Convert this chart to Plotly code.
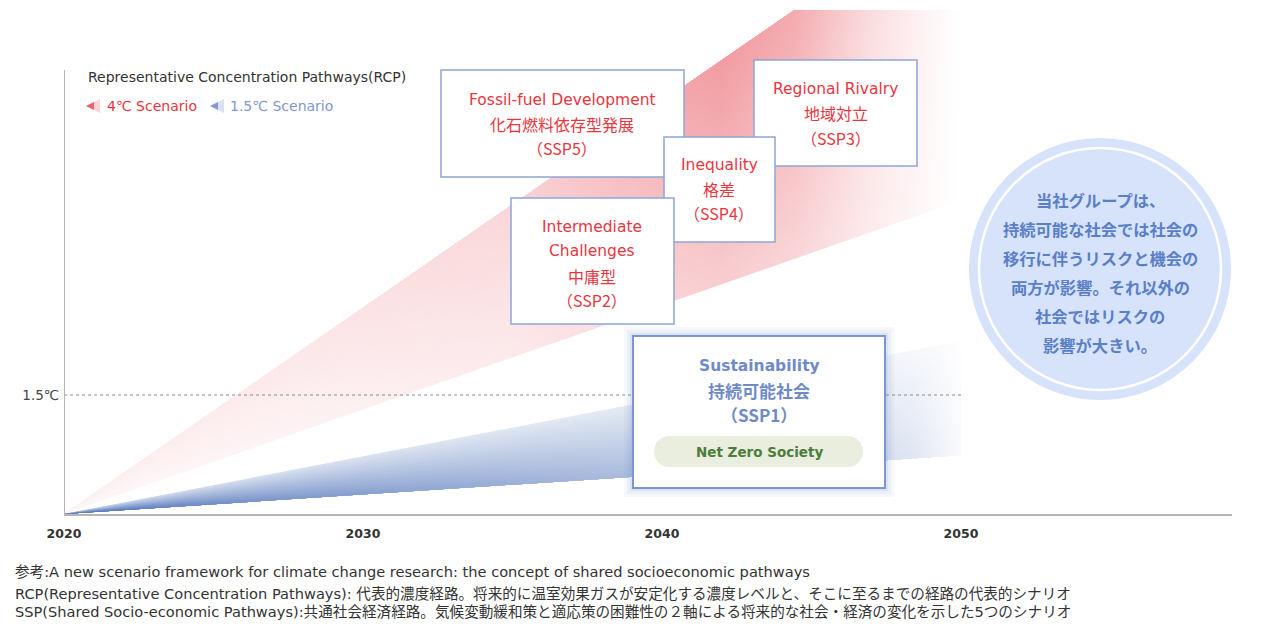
import plotly.graph_objects as go

W, H = 1263, 628

# ---------------- data ----------------
years = [2020, 2050]
rcp_4c_upper = [0.0, 7.8]     # 4℃ scenario fan, upper edge
rcp_4c_lower = [0.0, 3.95]    # 4℃ scenario fan, lower edge
rcp_15c_upper = [0.0, 2.18]   # 1.5℃ scenario fan, upper edge
rcp_15c_lower = [0.0, 0.74]   # 1.5℃ scenario fan, lower edge
threshold_value = 1.5
threshold_label = "1.5℃"
tick_years = [2020, 2030, 2040, 2050]

ssp_boxes = [
    ("SSP5", ["Fossil-fuel Development", "化石燃料依存型発展", "（SSP5）"]),
    ("SSP3", ["Regional Rivalry", "地域対立", "（SSP3）"]),
    ("SSP4", ["Inequality", "格差", "（SSP4）"]),
    ("SSP2", ["Intermediate", "Challenges", "中庸型", "（SSP2）"]),
]
ssp1_lines = ["Sustainability", "持続可能社会", "（SSP1）"]
ssp1_tag = "Net Zero Society"
circle_lines = ["当社グループは、", "持続可能な社会では社会の", "移行に伴うリスクと機会の",
                "両方が影響。それ以外の", "社会ではリスクの", "影響が大きい。"]
legend_title = "Representative Concentration Pathways(RCP)"
legend_items = ["4℃ Scenario", "1.5℃ Scenario"]
notes = [
    "参考:A new scenario framework for climate change research: the concept of shared socioeconomic pathways",
    "RCP(Representative Concentration Pathways): 代表的濃度経路。将来的に温室効果ガスが安定化する濃度レベルと、そこに至るまでの経路の代表的シナリオ",
    "SSP(Shared Socio-economic Pathways):共通社会経済経路。気候変動緩和策と適応策の困難性の２軸による将来的な社会・経済の変化を示した5つのシナリオ",
]

# ---------------- style ----------------
RED = "#e8363f"
BLUE_T = "#8097cc"
BOX_LINE = "#8fa5d6"
LAT = "DejaVu Sans, Noto Sans CJK JP"
CJK = "Noto Sans CJK JP"

PX_PER_YEAR = 29.9
PX_PER_UNIT = 119 / 1.5
X_MAX = years[0] + 1168 / PX_PER_YEAR


def px(x):
    return x / W


def py(y):
    return 1 - y / H


def mix(base, I):
    I = max(0.0, min(1.0, I))
    r, g, b = base
    return "rgb(%d,%d,%d)" % (round(r * I + 255 * (1 - I)), round(g * I + 255 * (1 - I)), round(b * I + 255 * (1 - I)))


def fan_traces(lower, upper, base, hprof, vfun, dark_top, n=28):
    out = []
    x0, x1 = years[0], X_MAX
    for k in range(n, 0, -1):
        if dark_top:
            fa, fb = 1 - k / n, 1.0
            frep = 1 - (k - 0.5) / n
        else:
            fa, fb = 0.0, k / n
            frep = (k - 0.5) / n
        ya = [lo + fa * (hi - lo) for lo, hi in zip(lower, upper)]
        yb = [lo + fb * (hi - lo) for lo, hi in zip(lower, upper)]
        cs = [[(xx - x0) / (x1 - x0), mix(base, v * vfun(frep))] for xx, v in hprof]
        cs.append([1.0, "rgb(255,255,255)"])
        out.append(go.Scatter(
            x=years + years[::-1], y=ya + yb[::-1], mode="lines", fill="toself",
            line=dict(width=0), hoverinfo="skip", showlegend=False,
            fillgradient=dict(type="horizontal", colorscale=cs, start=x0, stop=x1),
        ))
    return out


fig = go.Figure()

red_h = [(2020, 0.12), (2028, 0.2), (2035, 0.35), (2039, 0.65), (2042, 0.85),
         (2044.5, 0.72), (2047, 0.33), (2049, 0.1), (2050, 0.0)]
blue_h = [(2020, 1.0), (2026, 0.75), (2033, 0.6), (2040, 0.45), (2046, 0.3),
          (2048.5, 0.17), (2050, 0.03)]

for t in fan_traces(rcp_4c_lower, rcp_4c_upper, (239, 138, 145), red_h,
                    lambda f: 0.5 + 0.5 * f, dark_top=True):
    fig.add_trace(t)
for t in fan_traces(rcp_15c_lower, rcp_15c_upper, (74, 111, 183), blue_h,
                    lambda f: 1.0 - 0.7 * f, dark_top=False):
    fig.add_trace(t)

# 1.5℃ threshold
fig.add_trace(go.Scatter(x=years, y=[threshold_value] * len(years), mode="lines",
                         line=dict(color="#8a8a8a", width=1, dash="dot"),
                         hoverinfo="skip", showlegend=False))

shapes = []
# left axis line
shapes.append(dict(type="line", xref="x", yref="y", x0=years[0], x1=years[0], y0=0,
                   y1=(514 - 70) / PX_PER_UNIT, line=dict(color="#b5b5b5", width=2)))


def rect(x0, y0, x1, y1, fill="white", line=BOX_LINE, lw=1.5):
    d = dict(type="rect", xref="paper", yref="paper", x0=px(x0), x1=px(x1), y0=py(y1), y1=py(y0),
             fillcolor=fill, layer="above")
    d["line"] = dict(color=line, width=lw) if lw else dict(width=0)
    return d


def circ(x0, y0, x1, y1, fill=None, line=None, lw=0):
    d = dict(type="circle", xref="paper", yref="paper", x0=px(x0), x1=px(x1), y0=py(y1), y1=py(y0),
             layer="above")
    if fill:
        d["fillcolor"] = fill
    d["line"] = dict(color=line, width=lw) if lw else dict(width=0)
    return d


box_geom = {"SSP5": (441, 70, 684, 177), "SSP3": (754, 60, 917, 166),
            "SSP4": (664, 137, 775, 242), "SSP2": (511, 198, 674, 324)}
for key, _ in ssp_boxes:
    shapes.append(rect(*box_geom[key]))

# SSP1 box with glow
for pad, a in [(9, 0.06), (6, 0.08), (3, 0.12)]:
    shapes.append(rect(633 - pad, 336 - pad, 885 + pad, 488 + pad, fill="rgba(110,140,205,%.2f)" % a, lw=0))
shapes.append(rect(633, 336, 885, 488, line="#7d96cf", lw=2))
# pill
shapes.append(circ(654, 436, 685, 467, fill="#e9eedf"))
shapes.append(circ(832, 436, 863, 467, fill="#e9eedf"))
shapes.append(rect(669.5, 436, 847.5, 467, fill="#e9eedf", lw=0))

# message circle
shapes.append(circ(969, 138, 1231, 400, fill="#d6e3fb"))
shapes.append(circ(979, 148, 1221, 390, line="white", lw=2.5))


# legend icons (left-pointing triangles)
def tri(xt, yc, w, h, col):
    return dict(type="path", xref="paper", yref="paper",
                path="M %f %f L %f %f L %f %f Z" % (px(xt), py(yc), px(xt + w), py(yc - h), px(xt + w), py(yc + h)),
                fillcolor=col, line=dict(width=0), layer="above")


shapes.append(tri(86, 106, 14, 7, "rgba(240,110,120,0.30)"))
shapes.append(tri(86, 106, 8, 4, "rgba(232,60,70,0.75)"))
shapes.append(tri(210, 106, 14, 7, "rgba(128,151,204,0.30)"))
shapes.append(tri(210, 106, 8, 4, "rgba(110,135,195,0.8)"))

ann = []


def text(x, y, s, size, color, family, bold=False, xanchor="center"):
    ann.append(dict(x=px(x), y=py(y), xref="paper", yref="paper", text=s, showarrow=False,
                    xanchor=xanchor, yanchor="middle",
                    font=dict(size=size, color=color, family=family, weight="bold" if bold else "normal")))


def is_latin(s):
    return all(ord(c) < 0x2000 for c in s)


# legend
text(86, 77, legend_title, 14, "#333333", LAT, xanchor="left")
text(105, 106, legend_items[0], 14, RED, LAT, xanchor="left")
text(228, 106, legend_items[1], 14, BLUE_T, LAT, xanchor="left")

# SSP boxes text
box_text_pos = {"SSP5": (562, [100, 124, 148]), "SSP3": (836, [89, 113, 138]),
                "SSP4": (719, [165, 189, 213]), "SSP2": (592, [227, 251, 276, 300])}
for key, lines in ssp_boxes:
    cx, ys = box_text_pos[key]
    for s, yy in zip(lines, ys):
        if is_latin(s):
            text(cx, yy, s, 15.5, RED, LAT)
        else:
            text(cx, yy, s, 16, RED, CJK)

for s, yy in zip(ssp1_lines, [366, 390, 414]):
    if is_latin(s):
        text(759, yy, s, 15.5, "#6f8ac6", LAT, bold=True)
    else:
        text(759, yy, s, 17, "#6f8ac6", CJK, bold=True)
text(759, 452, ssp1_tag, 13.5, "#4d7c3c", LAT, bold=True)

for s, yy in zip(circle_lines, [200, 229, 258, 287, 316, 345]):
    text(1100, yy, s, 16.3, "#5a7fc7", CJK, bold=True)

for s, yy in zip(notes, [571, 593, 611]):
    text(13, yy, s, 14.6, "#333333", LAT, xanchor="left")

fig.update_layout(
    width=W, height=H, margin=dict(l=0, r=0, t=0, b=0, autoexpand=False),
    paper_bgcolor="white", plot_bgcolor="rgba(0,0,0,0)", showlegend=False,
    xaxis=dict(domain=[64 / W, 1232 / W], range=[years[0], X_MAX], automargin=False,
               tickvals=tick_years, showline=True, linecolor="#b5b5b5", linewidth=2,
               showgrid=False, zeroline=False, ticks="", ticklabelstandoff=7,
               tickfont=dict(family=LAT, size=12.5, color="#333333", weight="bold")),
    yaxis=dict(domain=[1 - 514 / H, 1 - 10 / H], range=[0, 504 / PX_PER_UNIT], automargin=False,
               tickvals=[threshold_value], ticktext=[threshold_label],
               showline=False, showgrid=False, zeroline=False, ticks="", ticklabelstandoff=4,
               tickfont=dict(family=LAT, size=13.5, color="#444444")),
    shapes=shapes, annotations=ann,
)

fig.write_html("out.html")
